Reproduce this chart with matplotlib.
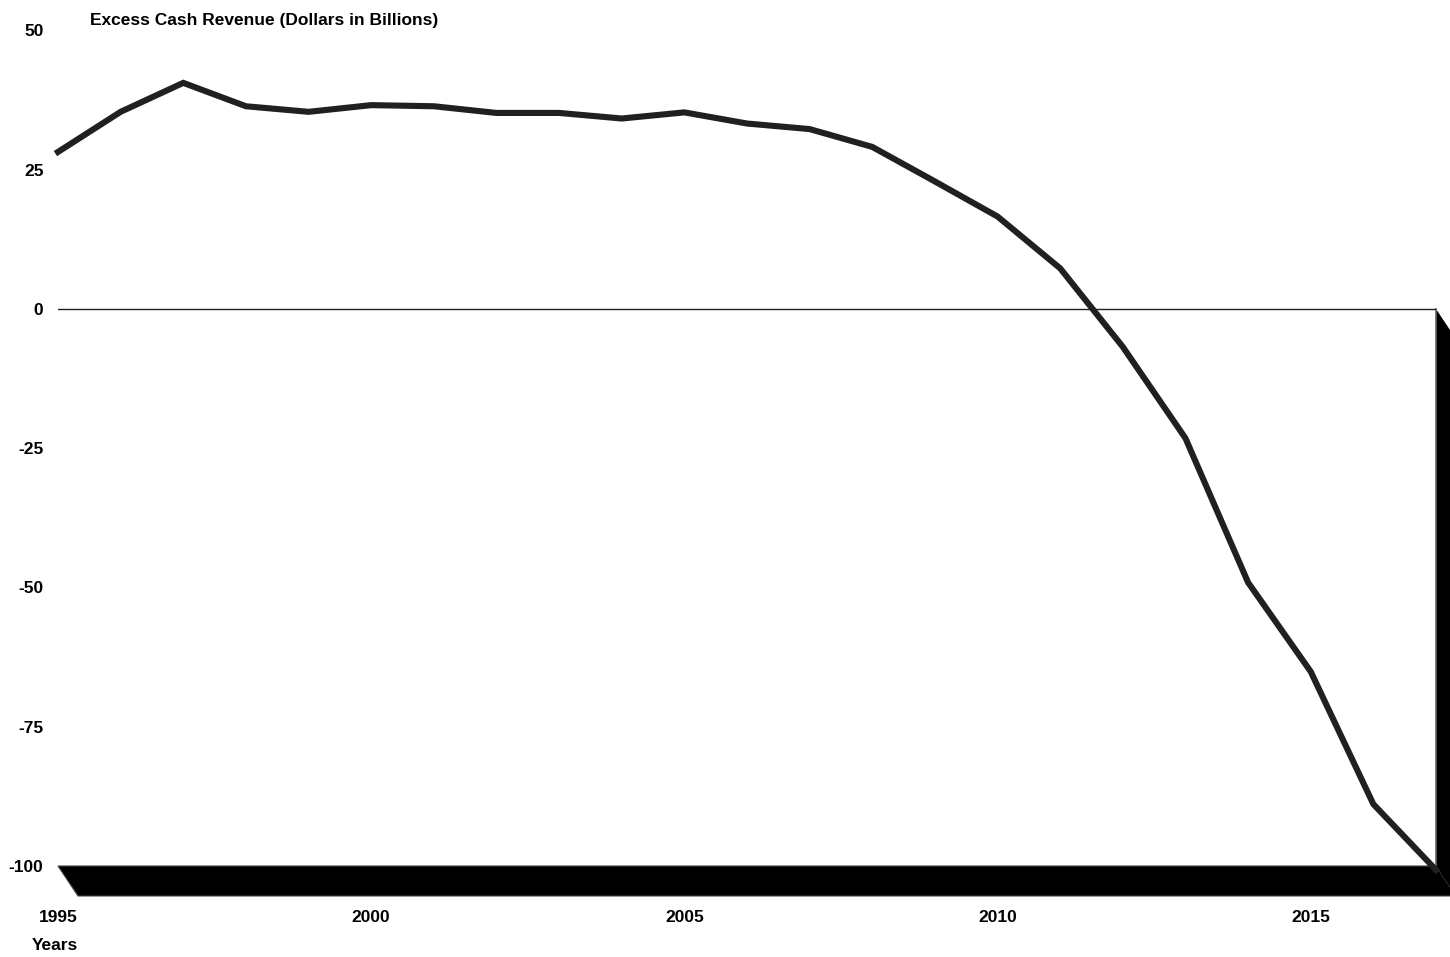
import matplotlib
matplotlib.use("Agg")
import matplotlib.pyplot as plt
from matplotlib.patches import Polygon

plt.rcParams['font.family'] = ['Liberation Sans', 'DejaVu Sans']

# Excess cash revenue, dollars in billions
years = list(range(1995, 2018))
excess_cash = [28.2, 35.4, 40.6, 36.4, 35.4, 36.6, 36.4, 35.2, 35.2, 34.2,
               35.3, 33.3, 32.3, 29.1, 22.9, 16.6, 7.3, -6.8, -23.2, -49.1,
               -65.1, -88.9, -100.7]

y_ticks = [50, 25, 0, -25, -50, -75, -100]
x_ticks = [1995, 2000, 2005, 2010, 2015]

W, H, DPI = 1450, 957, 100
fig = plt.figure(figsize=(W / DPI, H / DPI), dpi=DPI)

left_px, right_px = 58, 1436
top_px, bottom_px = 30.5, 866
ax = fig.add_axes([left_px / W, 1 - bottom_px / H,
                   (right_px - left_px) / W, (bottom_px - top_px) / H])

x0, x1 = 1995, 2017
y0, y1 = -100, 50
ax.set_xlim(x0, x1)
ax.set_ylim(y0, y1)

ink = '#231f20'
fs = 12.5

# 3-D style floor and right wall (depth offset of about 20 px right, 30 px down)
dx = 20 * (x1 - x0) / (right_px - left_px)
dy = 30 * (y1 - y0) / (bottom_px - top_px)
floor = Polygon([(x0, y0), (x1, y0), (x1 + dx, y0 - dy), (x0 + dx, y0 - dy)],
                closed=True, facecolor='black', edgecolor='#444444',
                linewidth=0.8, clip_on=False, zorder=2)
wall = Polygon([(x1, 0), (x1 + dx, -dy), (x1 + dx, y0 - dy), (x1, y0)],
               closed=True, facecolor='black', edgecolor='none',
               clip_on=False, zorder=2)
ax.add_patch(floor)
ax.add_patch(wall)
ax.plot([x1, x1], [0, y0], color='#666666', lw=1.2, zorder=2.5, clip_on=False)

# zero baseline
ax.axhline(0, color=ink, lw=1.0, zorder=3)

# data line
ax.plot(years, excess_cash, color=ink, lw=4.4, solid_joinstyle='miter',
        zorder=4, clip_on=False)

for s in ax.spines.values():
    s.set_visible(False)

ax.set_yticks(y_ticks)
ax.set_yticklabels([str(v) for v in y_ticks])
ax.set_xticks(x_ticks)
ax.set_xticklabels([str(v) for v in x_ticks])
ax.tick_params(axis='y', length=0, pad=10.5, labelsize=fs)
ax.tick_params(axis='x', length=0, pad=32, labelsize=fs)
for lbl in ax.get_xticklabels() + ax.get_yticklabels():
    lbl.set_fontweight('bold')
    lbl.set_color('black')

fig.text(90 / W, 1 - 20 / H, 'Excess Cash Revenue (Dollars in Billions)',
         ha='left', va='center', fontsize=fs, fontweight='bold')
fig.text(55 / W, 1 - 945 / H, 'Years', ha='center', va='center',
         fontsize=fs, fontweight='bold')

fig.savefig('out.png', dpi=DPI, facecolor='white')
